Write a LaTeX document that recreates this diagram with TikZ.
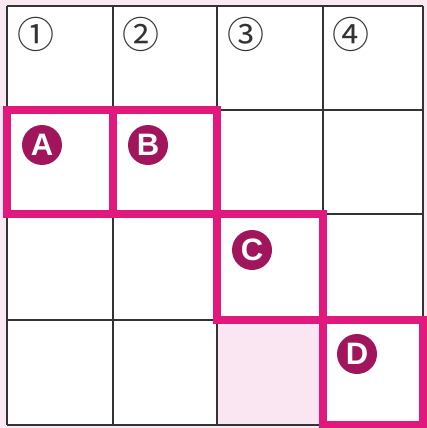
\documentclass[tikz,border=0pt]{standalone}
\usepackage{fontspec}
\setmainfont{Liberation Sans}
\newfontfamily\symfont{Noto Sans CJK JP}
\usetikzlibrary{positioning,calc}

\definecolor{hlpink}{HTML}{E2197C}
\definecolor{badgecol}{HTML}{A0155C}
\definecolor{bgpink}{HTML}{FAE8F2}
\definecolor{cellpink}{HTML}{F9E6F2}
\definecolor{gridgray}{HTML}{333333}

\begin{document}
\begin{tikzpicture}[x=1pt, y=-1pt,
  gridline/.style={draw=gridgray, line width=1.4pt},
  hlbox/.style={draw=hlpink, line width=8pt},
  badge/.style={circle, fill=badgecol, minimum size=40pt, inner sep=0pt, text=white, font=\bfseries\fontsize{31}{31}\selectfont},
  numlabel/.style={inner sep=0pt, text=gridgray, font=\symfont\fontsize{37}{37}\selectfont}]
\useasboundingbox (0,0) rectangle (427,428);

% Background and cells
\fill[bgpink] (0,0) rectangle (427,428);
\fill[white] (7,6) rectangle (423,425);
\fill[cellpink] (217,320) rectangle (323,425);

% Grid
\foreach \x in {7,113,217,323,423} \draw[gridline] (\x,6) -- (\x,425);
\foreach \y in {6,110,214,320,425} \draw[gridline] (7,\y) -- (423,\y);

% Column numbers
\node (n1) [numlabel] at (36,34) {①};
\node (n2) [numlabel] at (141,34) {②};
\node (n3) [numlabel] at (246,34) {③};
\node (n4) [numlabel] at (351,34) {④};

% Highlighted cells
\draw[hlbox] (7,110) rectangle (113,214);
\draw[hlbox] (113,110) rectangle (217,214);
\draw[hlbox] (217,214) rectangle (323,320);
\draw[hlbox] (323,320) rectangle (423,425);

% Badges
\node (a) [badge] at (42,145) {A};
\node (b) [badge] at (148,145) {B};
\node (c) [badge] at (252,250) {C};
\node (d) [badge] at (357,354) {D};
\end{tikzpicture}
\end{document}
